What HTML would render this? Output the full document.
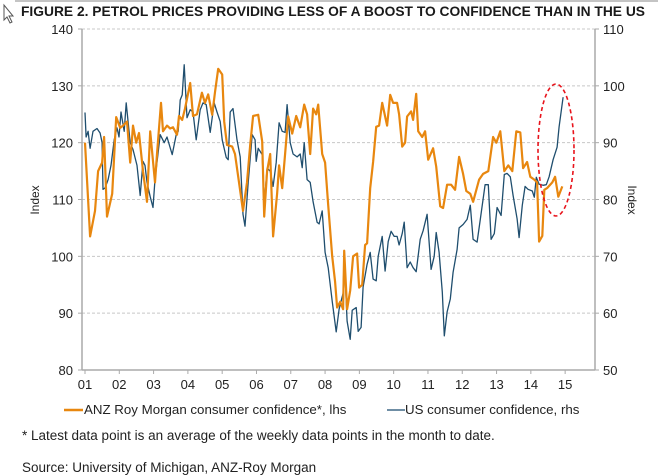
<!DOCTYPE html>
<html><head><meta charset="utf-8">
<style>
body{margin:0;background:#fff;width:658px;height:476px;overflow:hidden;font-family:"Liberation Sans",sans-serif;}
svg{display:block}
</style></head><body>
<svg id="chart" width="658" height="476" xmlns="http://www.w3.org/2000/svg">
<line x1="15" y1="1" x2="658" y2="1" stroke="#888" stroke-width="1"/>
<path d="M4 5 L4 20 L7 17 L10 23 L12 22 L9 16 L13 16 Z" fill="#fff" stroke="#555" stroke-width="1"/>
<text x="21" y="16" font-size="13.8" font-weight="bold" fill="#1a1a1a">FIGURE 2. PETROL PRICES PROVIDING LESS OF A BOOST TO CONFIDENCE THAN IN THE US</text>
<g id="grid"></g>
<g id="axes"></g>
<g id="series"></g>
<ellipse cx="556" cy="150" rx="18" ry="66" fill="none" stroke="#e8141c" stroke-width="1.6" stroke-dasharray="4,3"/>
<text transform="translate(39,200) rotate(-90)" font-size="12" text-anchor="middle" fill="#222">Index</text>
<text transform="translate(628,200) rotate(90)" font-size="12" text-anchor="middle" fill="#222">Index</text>
<g>
<line x1="64" y1="410" x2="83" y2="410" stroke="#e8870f" stroke-width="2.5"/>
<text x="84" y="414" font-size="13.3" fill="#222">ANZ Roy Morgan consumer confidence*, lhs</text>
<line x1="387" y1="410" x2="405" y2="410" stroke="#6f8ea5" stroke-width="2"/>
<text x="405" y="414" font-size="13.3" fill="#222">US consumer confidence, rhs</text>
</g>
<text x="22" y="440" font-size="13.5" fill="#222">* Latest data point is an average of the weekly data points in the month to date.</text>
<text x="22" y="472" font-size="13.5" fill="#222">Source: University of Michigan, ANZ-Roy Morgan</text>
</svg>
<script>
const yearLabels=["01","02","03","04","05","06","07","08","09","10","11","12","13","14","15"];
const lhsTicks=[80,90,100,110,120,130,140];
const rhsTicks=[50,60,70,80,90,100,110];
const anzMonths=[0,1.8,3.5,4.6,6.0,6.7,7.7,9.5,10.9,12.3,13.3,14.7,15.8,16.8,17.9,18.9,20.3,21.7,22.8,24.5,25.2,26.6,27.3,28.7,29.8,30.8,32.2,32.9,34.0,35.0,36.8,37.8,39.2,40.9,42.0,43.1,44.5,45.5,46.6,48.0,48.7,49.7,51.5,52.5,53.9,55.3,56.7,57.8,58.8,60.6,62.0,62.7,63.7,64.8,65.8,67.2,67.9,69.0,70.0,71.1,72.5,73.9,75.3,76.7,77.7,78.8,79.8,80.9,81.6,83.0,84.0,85.1,86.5,87.5,88.2,89.3,90.3,90.7,91.7,92.8,93.8,95.2,95.9,97.0,98.0,98.7,99.8,100.8,101.9,102.9,104.0,105.7,106.8,107.8,109.2,109.9,111.0,112.0,112.7,114.1,114.8,115.9,116.6,118.0,119.0,120.1,121.8,122.9,124.3,125.3,126.7,128.1,129.5,130.9,132.3,133.4,134.8,135.8,137.9,139.3,141.1,142.8,143.9,145.3,146.7,148.1,149.5,150.9,152.3,153.3,154.7,155.8,157.2,158.2,158.9,160.0,160.7,161.7,163.5,164.5,165.6,167.0];
const anzValues=[120,103.5,108,115,116.5,121,107,111,124.5,122.6,123,123.7,116.5,123,120,121.7,115,109.6,122,113,118,127,122,123,122.5,122.7,121.4,124.7,124,126,130.5,124.7,125,128.8,127,128.5,124.9,128.9,133,132,123.7,119.6,119.3,118,113,108,113,119.6,124.7,124.9,120.2,107,115,118,103.5,111,116,112,118,124.6,121.6,124.7,122.7,126.7,125,118,126,125,126.7,118,116.5,109,100,95.5,91,92,90.7,101,90.7,94,100,100.5,94.5,95,102,102.3,112,116.6,122.8,123,127,123,128.4,127,127,125,119.3,120,124.6,125.5,124,128.6,122,121,122,117,119,115.8,108.8,108.5,112.6,112.6,111.7,117.5,114.5,111.5,111,109.6,113.5,114.5,115,121,120,122,115,116,115,122,121.8,115.5,116.6,114,113.5,113,102.6,103.6,111.7,112,113,114,110.5,112.3];
const usMonths=[0,0.4,1.1,1.8,2.8,4.2,5.3,6.0,6.3,7.0,8.1,9.1,10.2,11.2,11.9,12.6,13.7,14.4,15.8,16.8,18.2,19.3,20.3,21.0,21.7,22.8,23.8,24.5,26.3,27.7,28.7,30.5,31.9,32.6,33.3,34.0,34.7,35.7,36.8,37.8,38.9,40.3,41.3,42.4,43.8,45.2,46.2,47.3,48.0,49.4,50.1,50.8,51.8,53.2,54.3,55.3,56.0,57.1,58.5,59.5,59.9,60.6,62.0,62.7,63.7,64.8,65.8,66.9,67.9,69.0,70.0,70.7,71.8,72.8,74.2,75.3,76.0,76.7,77.7,78.8,79.8,81.2,81.9,83.0,84.0,85.1,86.5,87.9,88.9,90.3,90.7,91.7,92.8,93.5,94.9,95.6,96.6,97.3,98.7,99.8,100.8,101.9,102.6,104.0,105.0,106.1,107.1,108.2,109.2,109.9,111.0,111.7,112.7,113.8,114.8,115.9,117.3,118.3,119.7,121.1,122.2,122.9,123.9,125.0,125.7,126.7,127.8,128.8,130.2,130.9,132.3,133.7,134.8,135.8,137.2,138.3,140.0,141.1,142.1,143.2,144.2,145.6,146.7,147.7,148.8,149.8,151.2,151.9,153.0,154.0,155.0,156.5,157.2,157.9,158.9,160.3,161.4,162.4,163.8,165.2,165.9,167.3];
const usValues=[95.3,91,92,89,92,92.5,91.7,90,81.8,82,83.5,86,90.5,92.6,91,95.4,92,97,90,88.8,86,80.7,86.7,86,83,80.5,78.6,83.5,91.4,90,91,87.9,91.4,92,97.5,98.4,103.7,94.4,95.8,95.4,90.5,95.8,97,96.7,91.8,97,95.4,93.7,90.5,87.4,87,95.4,96,90.5,87.5,77.4,75.3,83,91.4,90.5,86.7,89,87.9,79,85.5,85,82.3,86.5,93.5,92,91.8,96.7,90,88,87.5,88,85.6,90,83.5,83,79.6,76,75.7,78,70.7,68,62.1,56.7,60.7,63.5,70,58.6,55.4,60.5,61,56.8,57.5,64.6,68.6,70.7,66,65.7,70,73.5,67.4,72.6,74.4,73.5,73.5,72,74,76,68,69,68,67.3,73,74.5,77.4,67.7,70,74.2,70.7,63.7,56,60.2,62.5,67.2,71.2,75,75.6,76.5,79,73,72.5,76.5,82.6,82.6,73,74,78.6,77.2,84.4,84.6,84,80.7,76.6,73.3,79,82.3,81.8,81.5,80.4,83.9,82.7,82.5,82.6,84,87,89.2,92.8,98];

const NS="http://www.w3.org/2000/svg";
const X0=85,MPX=2.858,LEFT=82,RIGHT=595,TOP=29,BOT=370;
function xScale(m){return X0+m*MPX;}
function yL(v){return TOP+(140-v)*(BOT-TOP)/60;}
function yR(v){return TOP+(110-v)*(BOT-TOP)/60;}
function mk(tag,attrs,parent){const e=document.createElementNS(NS,tag);for(const k in attrs)e.setAttribute(k,attrs[k]);parent.appendChild(e);return e;}
const grid=document.getElementById('grid'),axes=document.getElementById('axes'),series=document.getElementById('series');
lhsTicks.forEach((v,i)=>{
  const y=yL(v);
  if(v>80){const g=mk('line',{x1:LEFT,x2:RIGHT,y1:y,y2:y,stroke:'#c8c8c8','stroke-dasharray':'3,2','stroke-width':1},grid);
  
  }
  const t=mk('line',{x1:LEFT-4,x2:LEFT,y1:y,y2:y,stroke:'#aaa'},axes);
  
  
  const l=mk('text',{x:LEFT-9,y:y+5,'font-size':13,'text-anchor':'end',fill:'#222'},axes);l.textContent=v;
  
  
});
rhsTicks.forEach(v=>{
  const y=yR(v);
  const t=mk('line',{x1:RIGHT,x2:RIGHT+4,y1:y,y2:y,stroke:'#aaa'},axes);
  
  
  const l=mk('text',{x:RIGHT+8,y:y+5,'font-size':13,fill:'#222'},axes);l.textContent=v;
  
  
});
const la=mk('line',{x1:LEFT,x2:LEFT,y1:TOP,y2:BOT,stroke:'#aaa','stroke-width':1.5},axes);


const ra=mk('line',{x1:RIGHT,x2:RIGHT,y1:TOP,y2:BOT,stroke:'#aaa','stroke-width':1.5},axes);


const xa=mk('line',{x1:LEFT,x2:RIGHT,y1:BOT,y2:BOT,stroke:'#aaa','stroke-width':1.5},axes);


yearLabels.forEach((lab,i)=>{
  const x=xScale(i*12);
  const t=mk('line',{x1:x,x2:x,y1:BOT,y2:BOT+4,stroke:'#aaa'},axes);
  
  
  const l=mk('text',{x:x,y:BOT+19,'font-size':13,'text-anchor':'middle',fill:'#222'},axes);l.textContent=lab;
  
  
});
const pAnz=anzMonths.map((m,i)=>xScale(m).toFixed(1)+','+yL(anzValues[i]).toFixed(1)).join(' ');
const pUs=usMonths.map((m,i)=>xScale(m).toFixed(1)+','+yR(usValues[i]).toFixed(1)).join(' ');
const lu=mk('polyline',{points:pUs,fill:'none',stroke:'#1f4e6e','stroke-width':1.3,'stroke-linejoin':'round'},series);


const lo=mk('polyline',{points:pAnz,fill:'none',stroke:'#e8870f','stroke-width':2.2,'stroke-linejoin':'round'},series);


</script>
</body></html>
